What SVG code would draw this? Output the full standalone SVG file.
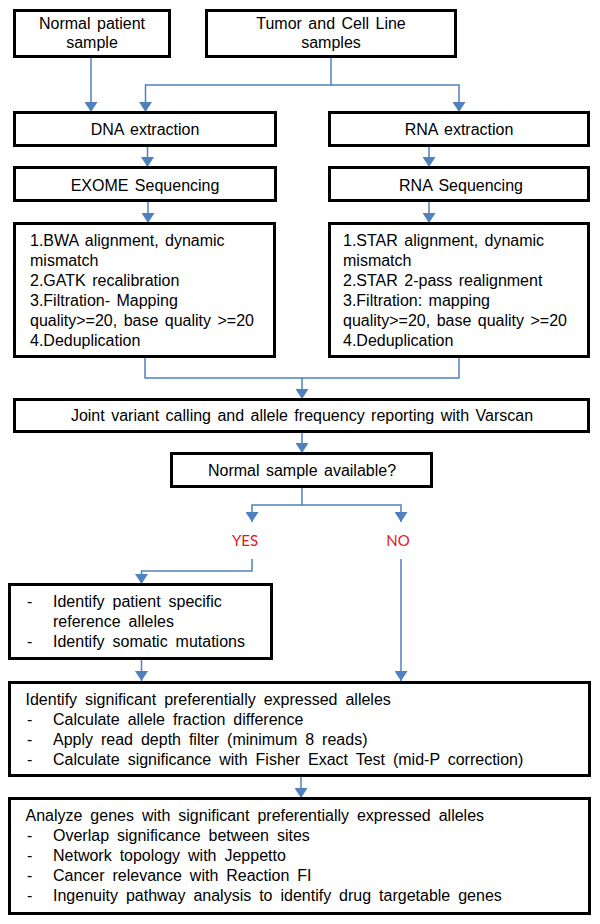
<svg xmlns="http://www.w3.org/2000/svg" width="600" height="924" viewBox="0 0 600 924">
<style>
.box{fill:#fff;stroke:#000;stroke-width:3}
.t{font-family:"Liberation Sans",Arial,sans-serif;font-size:16px;fill:#000;word-spacing:2px}
.w{word-spacing:3.5px}
.c{text-anchor:middle}
.yn{font-family:Lato,"Open Sans",sans-serif;font-size:15px;fill:#E3161B;text-anchor:middle}
.ln{fill:none;stroke:#4F81BD;stroke-width:1.5}
.ar{marker-end:url(#ah)}
</style>
<defs>
<marker id="ah" markerUnits="userSpaceOnUse" markerWidth="13" markerHeight="13" viewBox="0 0 13 13" refX="10" refY="6.5" orient="auto">
<path d="M0,0 L10,6.5 L0,13 z" fill="#4F81BD"/>
</marker>
</defs>
<rect width="600" height="924" fill="#fff"/>
<g id="connectors">
<path class="ln ar" d="M91,58 V112"/>
<path class="ln ar" d="M331,58 V85 H145.5 V112"/>
<path class="ln ar" d="M331,85 H459 V112"/>
<path class="ln ar" d="M147.5,147 V167"/>
<path class="ln ar" d="M429,147 V167"/>
<path class="ln ar" d="M148,202 V223"/>
<path class="ln ar" d="M429,202 V223"/>
<path class="ln ar" d="M145,358 V378 H302 V399"/>
<path class="ln" d="M459,358 V378 H302"/>
<path class="ln ar" d="M302,432 V453"/>
<path class="ln ar" d="M302,488 V505 H252 V522"/>
<path class="ln ar" d="M302,505 H401 V522"/>
<path class="ln ar" d="M252,559 V571 H141.5 V584"/>
<path class="ln ar" d="M401,559 V681"/>
<path class="ln ar" d="M141.5,660 V681"/>
<path class="ln ar" d="M301,777 V798"/>
</g>
<g id="n1"><rect class="box" x="14.5" y="10.5" width="155" height="46"/>
<text class="t c" x="92" y="29">Normal patient</text><text class="t c" x="92" y="48">sample</text></g>
<g id="n2"><rect class="box" x="206.5" y="10.5" width="249" height="46"/>
<text class="t c" x="331" y="29">Tumor and Cell Line</text><text class="t c" x="331" y="48">samples</text></g>
<g id="n3"><rect class="box" x="14.5" y="112.5" width="261" height="33"/>
<text class="t c" x="145" y="135">DNA extraction</text></g>
<g id="n4"><rect class="box" x="329.5" y="112.5" width="259" height="33"/>
<text class="t c" x="459" y="135">RNA extraction</text></g>
<g id="n5"><rect class="box" x="14.5" y="167.5" width="261" height="33"/>
<text class="t c" x="145" y="191">EXOME Sequencing</text></g>
<g id="n6"><rect class="box" x="329.5" y="167.5" width="259" height="33"/>
<text class="t c" x="461" y="191">RNA Sequencing</text></g>
<g id="n7"><rect class="box" x="14.5" y="223.5" width="260" height="133"/>
<text class="t" x="30" y="245.5">1.BWA alignment, dynamic</text>
<text class="t" x="30" y="265.5">mismatch</text>
<text class="t" x="30" y="285.5">2.GATK recalibration</text>
<text class="t" x="30" y="305.5">3.Filtration- Mapping</text>
<text class="t" x="30" y="325.5">quality&gt;=20, base quality &gt;=20</text>
<text class="t" x="30" y="345.5">4.Deduplication</text></g>
<g id="n8"><rect class="box" x="329.5" y="223.5" width="259" height="133"/>
<text class="t" x="343" y="245.5">1.STAR alignment, dynamic</text>
<text class="t" x="343" y="265.5">mismatch</text>
<text class="t" x="343" y="285.5">2.STAR 2-pass realignment</text>
<text class="t" x="343" y="305.5">3.Filtration: mapping</text>
<text class="t" x="343" y="325.5">quality&gt;=20, base quality &gt;=20</text>
<text class="t" x="343" y="345.5">4.Deduplication</text></g>
<g id="n9"><rect class="box" x="14.5" y="399.5" width="574" height="32"/>
<text class="t c" x="302" y="420.5">Joint variant calling and allele frequency reporting with Varscan</text></g>
<g id="n10"><rect class="box" x="171.5" y="453.5" width="260" height="33"/>
<text class="t c" x="302" y="476">Normal sample available?</text></g>
<g id="yes"><text class="yn" x="245" y="546">YES</text></g>
<g id="no"><text class="yn" x="398" y="546">NO</text></g>
<g id="n11"><rect class="box" x="9.5" y="584.5" width="262" height="74"/>
<text class="t" x="27" y="607">-</text><text class="t w" x="53" y="607">Identify patient specific</text>
<text class="t w" x="53" y="627">reference alleles</text>
<text class="t" x="27" y="647">-</text><text class="t w" x="53" y="647">Identify somatic mutations</text></g>
<g id="n12"><rect class="box" x="9.5" y="682.5" width="580" height="93"/>
<text class="t w" x="25.5" y="705">Identify significant preferentially expressed alleles</text>
<text class="t" x="27" y="725">-</text><text class="t w" x="53" y="725">Calculate allele fraction difference</text>
<text class="t" x="27" y="745">-</text><text class="t w" x="53" y="745">Apply read depth filter (minimum 8 reads)</text>
<text class="t" x="27" y="765">-</text><text class="t w" x="53" y="765">Calculate significance with Fisher Exact Test (mid-P correction)</text></g>
<g id="n13"><rect class="box" x="9.5" y="798.5" width="580" height="115"/>
<text class="t w" x="25.5" y="820.5">Analyze genes with significant preferentially expressed alleles</text>
<text class="t" x="27" y="840.5">-</text><text class="t w" x="53" y="840.5">Overlap significance between sites</text>
<text class="t" x="27" y="860.5">-</text><text class="t w" x="53" y="860.5">Network topology with Jeppetto</text>
<text class="t" x="27" y="880.5">-</text><text class="t w" x="53" y="880.5">Cancer relevance with Reaction FI</text>
<text class="t" x="27" y="900.5">-</text><text class="t w" x="53" y="900.5">Ingenuity pathway analysis to identify drug targetable genes</text></g>
</svg>
